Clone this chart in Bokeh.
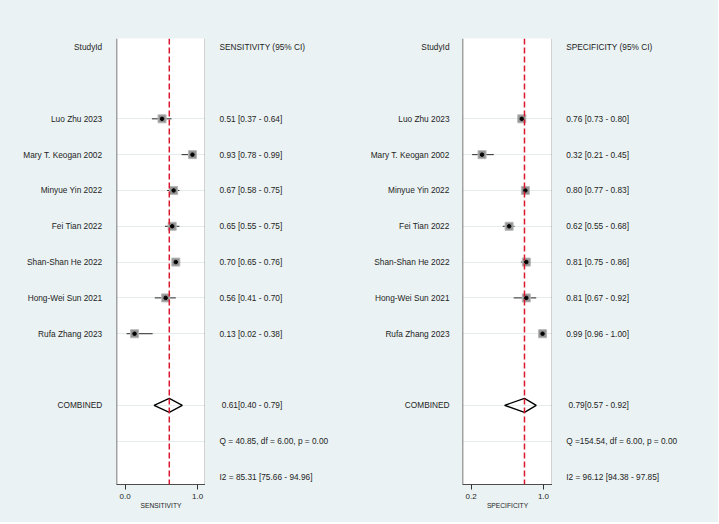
import numpy as np
from bokeh.plotting import figure
from bokeh.layouts import row
from bokeh.models import Range1d, Span, FixedTicker, Grid, PrintfTickFormatter
from bokeh.core.properties import value
from bokeh.embed import file_html
from bokeh.resources import INLINE

# ---------------- data ----------------
studies = ["Luo Zhu 2023", "Mary T. Keogan 2002", "Minyue Yin 2022", "Fei Tian 2022",
           "Shan-Shan He 2022", "Hong-Wei Sun 2021", "Rufa Zhang 2023"]
sens = [0.51, 0.93, 0.67, 0.65, 0.70, 0.56, 0.13]
sens_lo = [0.37, 0.78, 0.58, 0.55, 0.65, 0.41, 0.02]
sens_hi = [0.64, 0.99, 0.75, 0.75, 0.76, 0.70, 0.38]
spec = [0.76, 0.32, 0.80, 0.62, 0.81, 0.81, 0.99]
spec_lo = [0.73, 0.21, 0.77, 0.55, 0.75, 0.67, 0.96]
spec_hi = [0.80, 0.45, 0.83, 0.68, 0.86, 0.92, 1.00]
sens_pooled = [0.61, 0.40, 0.79]      # estimate, lower, upper
spec_pooled = [0.79, 0.57, 0.92]
sens_q = [40.85, 6.00, 0.00]          # Q, df, p
spec_q = [154.54, 6.00, 0.00]
sens_i2 = [85.31, 75.66, 94.96]       # I2, lower, upper
spec_i2 = [96.12, 94.38, 97.85]
sens_ticks = [0.0, 1.0]
spec_ticks = [0.2, 1.0]

# row layout (row index, top to bottom)
header_row = 0
study_rows = list(range(2, 2 + len(studies)))
comb_row = study_rows[-1] + 2
q_row = comb_row + 1
i2_row = comb_row + 2

BG = "#EAF2F3"
FONT = "Liberation Sans"
FS = "8.3px"
TXT = "#1e1e1e"
H = 522
TOP, BOT = 38, 38
yr = Range1d(12.21, -0.243)


def base(width, xr, **kw):
    p = figure(width=width, height=H, x_range=xr, y_range=yr, output_backend="svg",
               toolbar_location=None, min_border_left=0, min_border_right=0,
               min_border_top=TOP, min_border_bottom=BOT, **kw)
    p.border_fill_color = BG
    p.outline_line_color = None
    return p


def textfig(width, x, labels, ys, align):
    p = base(width, Range1d(0, width), x_axis_location=None, y_axis_location=None)
    p.grid.visible = False
    p.background_fill_color = BG
    p.text(x=x, y=ys, text=labels, text_align=align, text_baseline="middle",
           text_font=value(FONT), text_font_size=FS, text_color=TXT)
    return p


def forest(est, lo, hi, pooled, xr, ticks, title, width):
    p = base(width, Range1d(*xr), y_axis_location=None)
    p.grid.visible = False
    p.background_fill_color = "white"
    g = Grid(dimension=1, ticker=FixedTicker(ticks=study_rows + [comb_row, q_row]),
             grid_line_color="#E4ECEE", grid_line_width=1)
    p.add_layout(g, "center")
    # borders left / right
    for loc in xr:
        p.add_layout(Span(location=loc, dimension="height", line_color="#4d4d4d", line_width=1.5))
    # pooled line
    p.add_layout(Span(location=pooled[0], dimension="height", line_color="#D9182D",
                      line_dash="6 3", line_width=1.5))
    p.segment(x0=lo, y0=study_rows, x1=hi, y1=study_rows, line_color="#2b2b2b", line_width=1)
    p.scatter(x=est, y=study_rows, marker="square", size=8, fill_color="#929292",
              line_color="#b8b8b8", line_width=1)
    p.scatter(x=est, y=study_rows, marker="circle", size=3.5, fill_color="black", line_color="black")
    h = 0.195
    e, l, u = pooled
    p.patch(x=[l, e, u, e, l], y=[comb_row, comb_row - h, comb_row, comb_row + h, comb_row],
            fill_alpha=0, line_color="black", line_width=1.3)
    ax = p.xaxis[0]
    ax.ticker = FixedTicker(ticks=ticks)
    ax.formatter = PrintfTickFormatter(format="%.1f")
    ax.axis_line_color = "#4d4d4d"
    ax.axis_line_width = 1.2
    ax.major_tick_line_color = "#333333"
    ax.major_tick_in = 0
    ax.major_tick_out = 5
    ax.minor_tick_line_color = None
    ax.major_label_text_font = FONT
    ax.major_label_text_font_size = "8px"
    ax.major_label_text_color = TXT
    ax.major_label_standoff = 4
    ax.axis_label = title
    ax.axis_label_text_font = FONT
    ax.axis_label_text_font_size = "6.7px"
    ax.axis_label_text_font_style = "normal"
    ax.axis_label_text_color = TXT
    ax.axis_label_standoff = 0
    return p


def value_texts(est, lo, hi):
    return [f"{a:.2f} [{b:.2f} - {c:.2f}]" for a, b, c in zip(est, lo, hi)]


def values_fig(width, x, est, lo, hi, pooled, q, i2, header):
    labels = [header] + value_texts(est, lo, hi)
    ys = [header_row] + study_rows
    p = textfig(width, x, labels, ys, "left")
    p.text(x=x + 2.3, y=[comb_row],
           text=[f"{pooled[0]:.2f}[{pooled[1]:.2f} - {pooled[2]:.2f}]"],
           text_align="left", text_baseline="middle",
           text_font=value(FONT), text_font_size=FS, text_color=TXT)
    p.text(x=x, y=[q_row, i2_row],
           text=[f"Q ={q[0]:6.2f}, df = {q[1]:.2f}, p =  {q[2]:.2f}",
                 f"I2 = {i2[0]:.2f} [{i2[1]:.2f} - {i2[2]:.2f}]"],
           text_align="left", text_baseline="middle",
           text_font=value(FONT), text_font_size=FS, text_color=TXT)
    return p


name_labels = ["StudyId"] + studies + ["COMBINED"]
name_rows = [header_row] + study_rows + [comb_row]

L1 = textfig(116, 101.7, name_labels, name_rows, "right")
F1 = forest(sens, sens_lo, sens_hi, sens_pooled, (-0.119, 1.110), sens_ticks, "SENSITIVITY", 89)
V1 = values_fig(163, 14, sens, sens_lo, sens_hi, sens_pooled, sens_q, sens_i2, "SENSITIVITY (95% CI)")
L2 = textfig(94, 81, name_labels, name_rows, "right")
F2 = forest(spec, spec_lo, spec_hi, spec_pooled, (0.104, 1.100), spec_ticks, "SPECIFICITY", 90)
V2 = values_fig(166, 13.7, spec, spec_lo, spec_hi, spec_pooled, spec_q, spec_i2, "SPECIFICITY (95% CI)")

layout = row(L1, F1, V1, L2, F2, V2, styles={"background-color": BG})

open("out.html", "w").write(file_html(layout, INLINE))
